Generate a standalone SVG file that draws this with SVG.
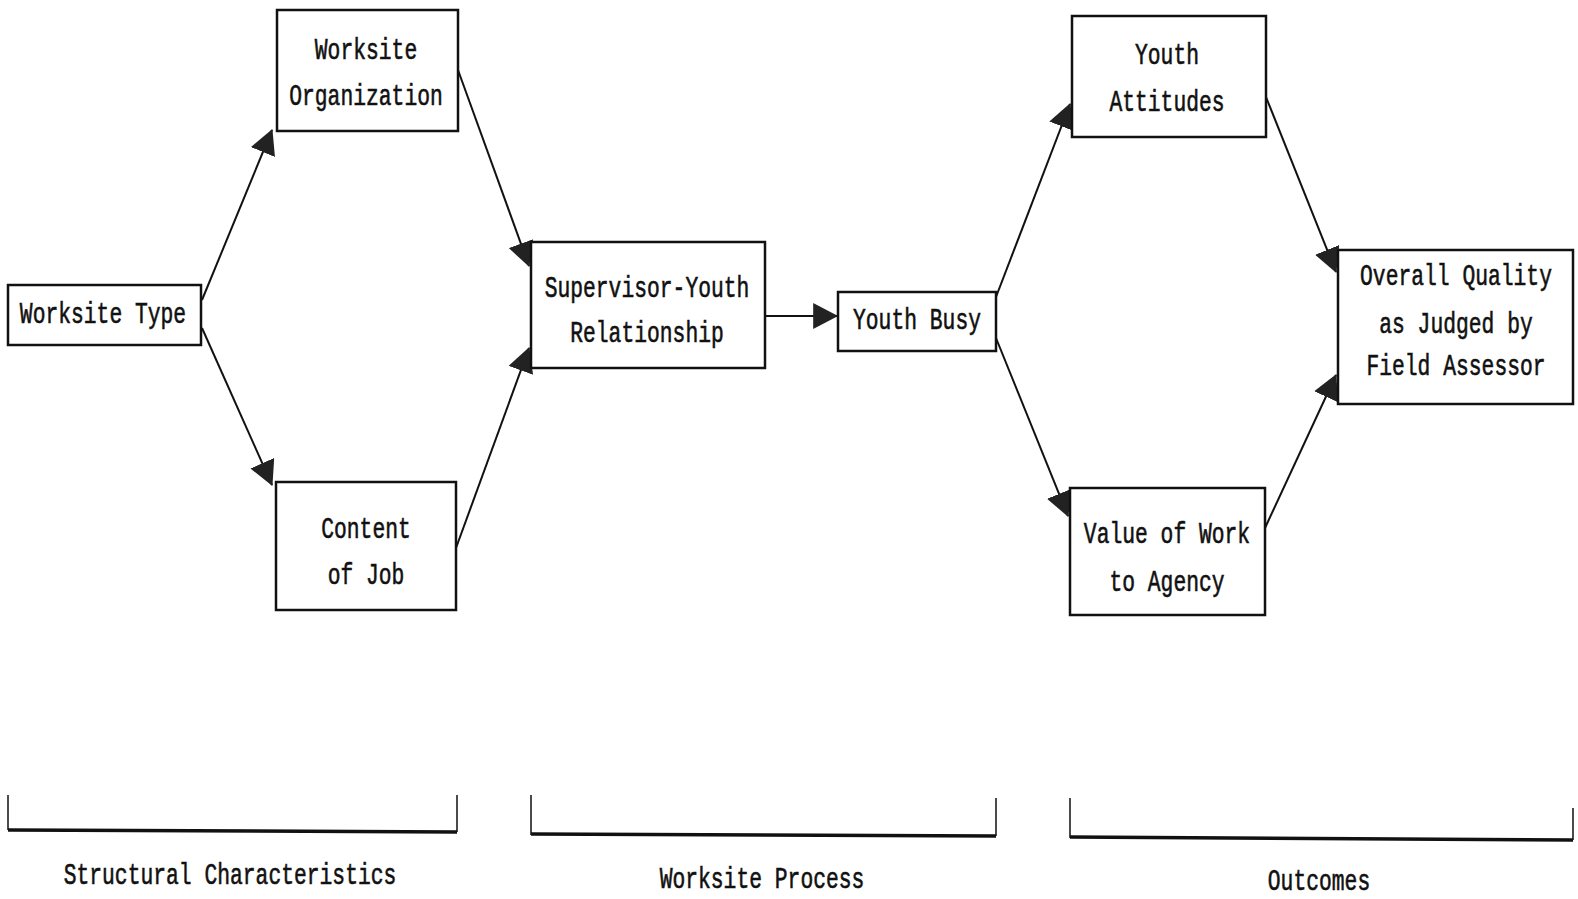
<svg xmlns="http://www.w3.org/2000/svg" width="1578" height="899" viewBox="0 0 1578 899">
<style>
.box{fill:#fff;stroke:#111;stroke-width:2.5}
.t{font-family:"Liberation Mono","DejaVu Sans Mono",monospace;font-size:30px;fill:#111;stroke:#111;stroke-width:0.6;text-anchor:middle}
.c{stroke:#111;stroke-width:2;fill:none}
.br{stroke:#111;fill:none}
</style>
<defs>
<marker id="ah" markerUnits="userSpaceOnUse" markerWidth="26" markerHeight="26" refX="22" refY="12" orient="auto" viewBox="0 0 24 24">
<path d="M0,0 L23,12 L0,24 Z" fill="#222"/>
</marker>
</defs>
<g id="connectors">
<line class="c" x1="202" y1="300" x2="272" y2="130" marker-end="url(#ah)"/>
<line class="c" x1="202" y1="328" x2="272" y2="485" marker-end="url(#ah)"/>
<line class="c" x1="458" y1="70" x2="529" y2="266" marker-end="url(#ah)"/>
<line class="c" x1="456" y1="548" x2="529" y2="348" marker-end="url(#ah)"/>
<line class="c" x1="765" y1="316" x2="837" y2="316" marker-end="url(#ah)"/>
<line class="c" x1="996" y1="297" x2="1070" y2="104" marker-end="url(#ah)"/>
<line class="c" x1="996" y1="338" x2="1068" y2="516" marker-end="url(#ah)"/>
<line class="c" x1="1266" y1="97" x2="1336" y2="272" marker-end="url(#ah)"/>
<line class="c" x1="1265" y1="528" x2="1336" y2="375" marker-end="url(#ah)"/>
</g>
<g id="worksite-type">
<rect class="box" x="8" y="285" width="193" height="60"/>
<text class="t" transform="translate(103,323) scale(0.711,1)">Worksite Type</text>
</g>
<g id="worksite-organization">
<rect class="box" x="277" y="10" width="181" height="121"/>
<text class="t" transform="translate(366,59) scale(0.711,1)">Worksite</text>
<text class="t" transform="translate(366,105) scale(0.711,1)">Organization</text>
</g>
<g id="content-of-job">
<rect class="box" x="276" y="482" width="180" height="128"/>
<text class="t" transform="translate(366,538) scale(0.711,1)">Content</text>
<text class="t" transform="translate(366,584) scale(0.711,1)">of Job</text>
</g>
<g id="supervisor-youth">
<rect class="box" x="531" y="242" width="234" height="126"/>
<text class="t" transform="translate(647,297) scale(0.711,1)">Supervisor-Youth</text>
<text class="t" transform="translate(647,342) scale(0.711,1)">Relationship</text>
</g>
<g id="youth-busy">
<rect class="box" x="838" y="292" width="158" height="59"/>
<text class="t" transform="translate(917,329) scale(0.711,1)">Youth Busy</text>
</g>
<g id="youth-attitudes">
<rect class="box" x="1072" y="16" width="194" height="121"/>
<text class="t" transform="translate(1167,64) scale(0.711,1)">Youth</text>
<text class="t" transform="translate(1167,111) scale(0.711,1)">Attitudes</text>
</g>
<g id="value-of-work">
<rect class="box" x="1070" y="488" width="195" height="127"/>
<text class="t" transform="translate(1167,543) scale(0.711,1)">Value of Work</text>
<text class="t" transform="translate(1167,591) scale(0.711,1)">to Agency</text>
</g>
<g id="overall-quality">
<rect class="box" x="1338" y="250" width="235" height="154"/>
<text class="t" transform="translate(1456,285) scale(0.711,1)">Overall Quality</text>
<text class="t" transform="translate(1456,333) scale(0.711,1)">as Judged by</text>
<text class="t" transform="translate(1456,375) scale(0.711,1)">Field Assessor</text>
</g>
<g id="brackets">
<path class="br" stroke-width="1.5" d="M8,795 V830 M457,795 V832"/>
<path class="br" stroke-width="3.5" d="M8,830 L457,832"/>
<path class="br" stroke-width="1.5" d="M531,795 V835 M996,798 V836"/>
<path class="br" stroke-width="3.5" d="M531,834 L996,836"/>
<path class="br" stroke-width="1.5" d="M1070,798 V838 M1573,808 V840"/>
<path class="br" stroke-width="3.5" d="M1070,837 L1573,840"/>
</g>
<g id="labels">
<text class="t" transform="translate(230,884) scale(0.711,1)">Structural Characteristics</text>
<text class="t" transform="translate(762,888) scale(0.711,1)">Worksite Process</text>
<text class="t" transform="translate(1319,890) scale(0.711,1)">Outcomes</text>
</g>
</svg>
